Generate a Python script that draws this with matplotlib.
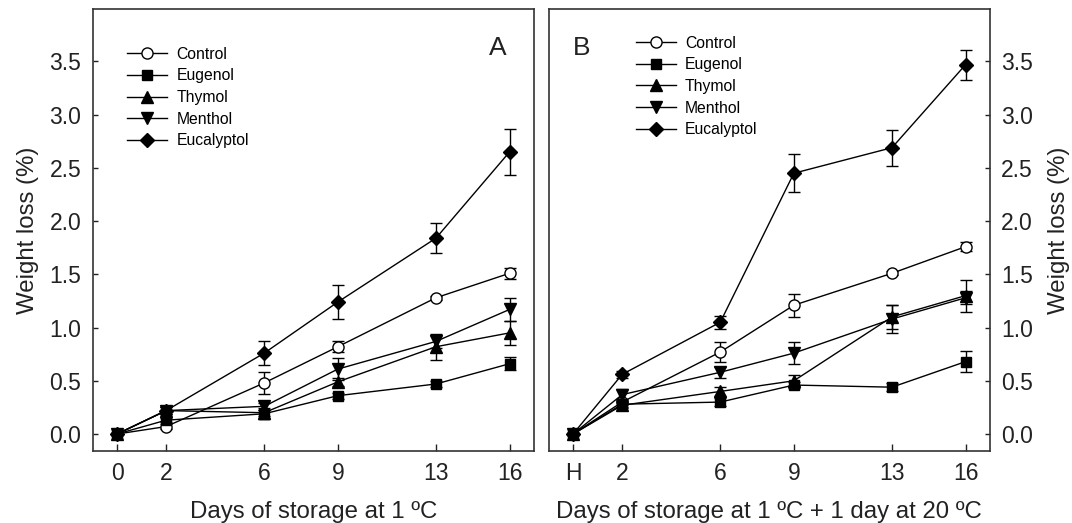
import matplotlib
matplotlib.use('Agg')
import matplotlib.pyplot as plt

plt.rcParams['font.family'] = ['Liberation Sans', 'DejaVu Sans']

days = [0, 2, 6, 9, 13, 16]
ticks_a = ['0', '2', '6', '9', '13', '16']
ticks_b = ['H', '2', '6', '9', '13', '16']
names = ['Control', 'Eugenol', 'Thymol', 'Menthol', 'Eucalyptol']

# panel A - days of storage at 1 C
control_a = [0, 0.07, 0.48, 0.82, 1.28, 1.51]
eugenol_a = [0, 0.13, 0.19, 0.36, 0.47, 0.66]
thymol_a = [0, 0.22, 0.20, 0.49, 0.82, 0.95]
menthol_a = [0, 0.22, 0.26, 0.61, 0.87, 1.17]
eucalyptol_a = [0, 0.22, 0.76, 1.24, 1.84, 2.65]
control_a_err = [0, 0.02, 0.10, 0.05, 0.02, 0.05]
eugenol_a_err = [0, 0.02, 0.05, 0.03, 0.03, 0.06]
thymol_a_err = [0, 0.03, 0.03, 0.04, 0.12, 0.11]
menthol_a_err = [0, 0.03, 0.03, 0.10, 0.06, 0.11]
eucalyptol_a_err = [0, 0.03, 0.11, 0.16, 0.14, 0.22]

# panel B - storage + 1 day at 20 C
control_b = [0, 0.30, 0.77, 1.21, 1.51, 1.76]
eugenol_b = [0, 0.28, 0.30, 0.46, 0.44, 0.68]
thymol_b = [0, 0.27, 0.40, 0.50, 1.10, 1.30]
menthol_b = [0, 0.37, 0.58, 0.76, 1.08, 1.28]
eucalyptol_b = [0, 0.56, 1.05, 2.45, 2.69, 3.47]
control_b_err = [0, 0.03, 0.09, 0.11, 0.02, 0.04]
eugenol_b_err = [0, 0.03, 0.04, 0.03, 0.04, 0.10]
thymol_b_err = [0, 0.03, 0.04, 0.05, 0.11, 0.15]
menthol_b_err = [0, 0.05, 0.05, 0.10, 0.13, 0.06]
eucalyptol_b_err = [0, 0.03, 0.06, 0.18, 0.17, 0.14]

styles = [dict(marker='o', mfc='white', ms=8),
          dict(marker='s', mfc='black', ms=7.3),
          dict(marker='^', mfc='black', ms=8),
          dict(marker='v', mfc='black', ms=8),
          dict(marker='D', mfc='black', ms=7.3)]

fig = plt.figure(figsize=(10.72, 5.23), dpi=100)
ax1 = fig.add_axes([0.0863, 0.1386, 0.4119, 0.8436])
ax2 = fig.add_axes([0.5117, 0.1386, 0.4119, 0.8436])

panels = [(ax1, [control_a, eugenol_a, thymol_a, menthol_a, eucalyptol_a],
           [control_a_err, eugenol_a_err, thymol_a_err, menthol_a_err, eucalyptol_a_err], ticks_a),
          (ax2, [control_b, eugenol_b, thymol_b, menthol_b, eucalyptol_b],
           [control_b_err, eugenol_b_err, thymol_b_err, menthol_b_err, eucalyptol_b_err], ticks_b)]

for ax, series, errs, xt in panels:
    for name, y, e, st in zip(names, series, errs, styles):
        ax.errorbar(days, y, yerr=e, fmt='none', ecolor='black', elinewidth=1,
                    capsize=4.5, capthick=1, zorder=2)
        ax.plot(days, y, color='black', lw=1, mec='black', mew=1, label=name,
                zorder=3, **st)
    ax.set_xlim(-1, 17)
    ax.set_ylim(-0.155, 3.99)
    ax.set_yticks([0, 0.5, 1.0, 1.5, 2.0, 2.5, 3.0, 3.5])
    ax.set_yticklabels(['0.0', '0.5', '1.0', '1.5', '2.0', '2.5', '3.0', '3.5'])
    ax.set_xticks(days)
    ax.set_xticklabels(xt)
    ax.tick_params(axis='both', direction='in', width=1,
                   labelsize=16.5, colors='#222222')
    ax.tick_params(axis='x', length=5, pad=8)
    ax.tick_params(axis='y', length=3.6, pad=8)
    for s in ax.spines.values():
        s.set_linewidth(1.2)
        s.set_color('#333333')

ax1.set_xlabel('Days of storage at 1 ºC', fontsize=17.3, color='#222222')
ax1.set_ylabel('Weight loss (%)', fontsize=17.3, color='#222222')
ax1.xaxis.set_label_coords(0.5, -0.115)
ax1.yaxis.set_label_coords(-0.121, 0.5)

ax2.yaxis.tick_right()
ax2.yaxis.set_label_position('right')
ax2.set_xlabel('Days of storage at 1 ºC + 1 day at 20 ºC', fontsize=17.3, color='#222222')
ax2.set_ylabel('Weight loss (%)', fontsize=17.3, color='#222222')
ax2.xaxis.set_label_coords(0.5, -0.115)
ax2.yaxis.set_label_coords(1.131, 0.5)

ax1.text(0.918, 0.912, 'A', transform=ax1.transAxes, fontsize=19,
         ha='center', va='center', color='#222222')
ax2.text(0.075, 0.912, 'B', transform=ax2.transAxes, fontsize=19,
         ha='center', va='center', color='#222222')

ax1.legend(loc='upper left', bbox_to_anchor=(0.078, 0.915), frameon=False,
           fontsize=11.3, numpoints=1, handlelength=2.55, handletextpad=0.6,
           labelspacing=0.42, borderpad=0, borderaxespad=0)
ax2.legend(loc='upper left', bbox_to_anchor=(0.197, 0.94), frameon=False,
           fontsize=11.3, numpoints=1, handlelength=2.55, handletextpad=0.6,
           labelspacing=0.42, borderpad=0, borderaxespad=0)

plt.savefig('out.png', dpi=100)
